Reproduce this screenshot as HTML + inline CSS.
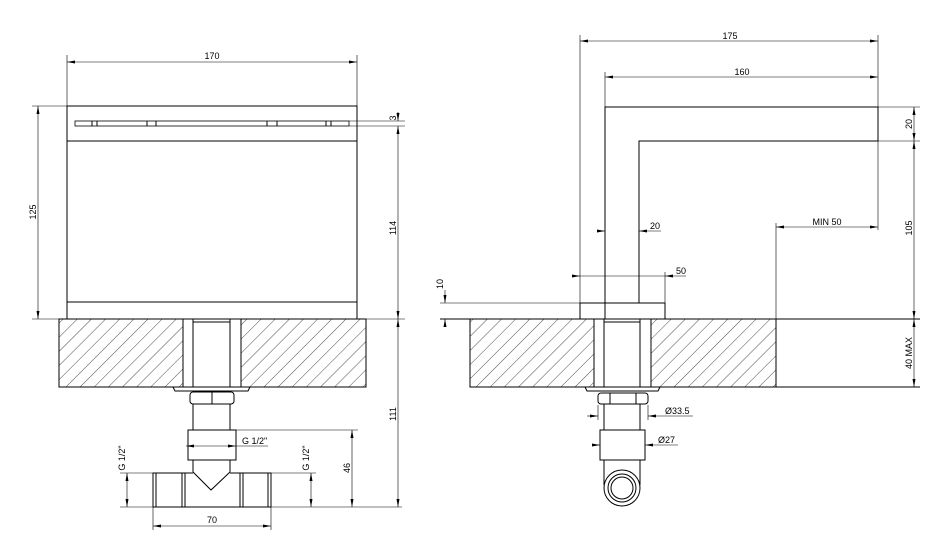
<!DOCTYPE html>
<html><head><meta charset="utf-8"><style>body{margin:0;background:#fff}svg{display:block}text{font-family:"Liberation Sans",sans-serif;font-size:9px;fill:#000}</style></head><body>
<svg width="934" height="549" viewBox="0 0 934 549" xmlns="http://www.w3.org/2000/svg">
<defs>
<pattern id="h" patternUnits="userSpaceOnUse" width="10" height="10" patternTransform="rotate(45)"><line x1="0" y1="0" x2="0" y2="10" stroke="#000" stroke-width="0.7"/></pattern>
<marker id="a" markerWidth="8" markerHeight="6" refX="8" refY="3" orient="auto-start-reverse" markerUnits="userSpaceOnUse"><path d="M0,1.5 L8,3 L0,4.5z" fill="#000"/></marker>
</defs>
<g stroke="#000" stroke-width="1" fill="none">
<!-- LEFT VIEW -->
<rect x="67" y="106" width="290" height="213"/>
<line x1="67" y1="141" x2="357" y2="141"/>
<line x1="67" y1="302" x2="357" y2="302"/>
<rect x="75" y="121" width="274" height="5" stroke-width="0.8"/>
<line x1="92" y1="121" x2="92" y2="126"/><line x1="97" y1="121" x2="97" y2="126"/>
<line x1="147" y1="121" x2="147" y2="126"/><line x1="156" y1="121" x2="156" y2="126"/>
<line x1="267" y1="121" x2="267" y2="126"/><line x1="277" y1="121" x2="277" y2="126"/>
<line x1="326" y1="121" x2="326" y2="126"/><line x1="331" y1="121" x2="331" y2="126"/>
<rect x="59" y="319" width="124" height="68" fill="url(#h)"/>
<rect x="241" y="319" width="125" height="68" fill="url(#h)"/>
<line x1="193" y1="319" x2="193" y2="387"/><line x1="230" y1="319" x2="230" y2="387"/>
<line x1="193" y1="322" x2="230" y2="322"/>
<path d="M173 387 L250 387 L248 391 L175 391z"/>
<rect x="190" y="392" width="44" height="12" rx="3"/><line x1="212" y1="392" x2="212" y2="404"/>
<line x1="193" y1="404" x2="193" y2="430"/><line x1="230" y1="404" x2="230" y2="430"/>
<rect x="188" y="430" width="48" height="30"/>
<path d="M193 460 L193 472 M230 460 L230 472 M193 472 L211 490 L230 472"/>
<rect x="153" y="473" width="32" height="34"/><rect x="156" y="473" width="26" height="34"/>
<rect x="240" y="473" width="31" height="34"/><rect x="243" y="473" width="25" height="34"/>
<line x1="185" y1="473" x2="193" y2="473"/><line x1="230" y1="473" x2="240" y2="473"/>
<line x1="185" y1="507" x2="240" y2="507"/>
<!-- left dims -->
<line x1="67" y1="55" x2="67" y2="106" stroke-width="0.6"/><line x1="357" y1="55" x2="357" y2="106" stroke-width="0.6"/>
<line x1="67" y1="62" x2="357" y2="62" stroke-width="0.6" marker-start="url(#a)" marker-end="url(#a)"/>
<line x1="32" y1="106" x2="67" y2="106" stroke-width="0.6"/><line x1="32" y1="319" x2="59" y2="319" stroke-width="0.6"/>
<line x1="38" y1="106" x2="38" y2="319" stroke-width="0.6" marker-start="url(#a)" marker-end="url(#a)"/>
<line x1="349" y1="121" x2="405" y2="121" stroke-width="0.6"/><line x1="349" y1="126" x2="405" y2="126" stroke-width="0.6"/>
<line x1="366" y1="319" x2="405" y2="319" stroke-width="0.6"/>
<line x1="398" y1="112" x2="398" y2="121" stroke-width="0.6" marker-end="url(#a)"/>
<line x1="398" y1="126" x2="398" y2="319" stroke-width="0.6" marker-start="url(#a)" marker-end="url(#a)"/>
<line x1="398" y1="319" x2="398" y2="507" stroke-width="0.6" marker-start="url(#a)" marker-end="url(#a)"/>
<line x1="236" y1="430" x2="358" y2="430" stroke-width="0.6"/>
<line x1="271" y1="507" x2="402" y2="507" stroke-width="0.6"/>
<line x1="352" y1="430" x2="352" y2="507" stroke-width="0.6" marker-start="url(#a)" marker-end="url(#a)"/>
<line x1="120" y1="473" x2="153" y2="473" stroke-width="0.6"/><line x1="120" y1="507" x2="153" y2="507" stroke-width="0.6"/>
<line x1="127" y1="473" x2="127" y2="507" stroke-width="0.6" marker-start="url(#a)" marker-end="url(#a)"/>
<line x1="271" y1="473" x2="316" y2="473" stroke-width="0.6"/>
<line x1="311" y1="473" x2="311" y2="507" stroke-width="0.6" marker-start="url(#a)" marker-end="url(#a)"/>
<line x1="153" y1="507" x2="153" y2="530" stroke-width="0.6"/><line x1="271" y1="507" x2="271" y2="530" stroke-width="0.6"/>
<line x1="153" y1="526" x2="271" y2="526" stroke-width="0.6" marker-start="url(#a)" marker-end="url(#a)"/>
<line x1="186" y1="446" x2="236" y2="446" stroke-width="0.6" marker-start="url(#a)" marker-end="url(#a)"/>
<line x1="236" y1="446" x2="268" y2="446" stroke-width="0.6"/>
<!-- RIGHT VIEW -->
<path d="M605 319 L605 107 L878 107 L878 141 L639 141 L639 303"/>
<rect x="580" y="303" width="85" height="16"/>
<line x1="440" y1="319" x2="920" y2="319"/>
<line x1="776" y1="387" x2="920" y2="387" />
<rect x="470" y="319" width="124" height="68" fill="url(#h)"/>
<rect x="651" y="319" width="125" height="68" fill="url(#h)"/>
<line x1="604" y1="319" x2="604" y2="387"/><line x1="640" y1="319" x2="640" y2="387"/>
<line x1="604" y1="322" x2="640" y2="322"/>
<path d="M585 387 L660 387 L658 391 L587 391z"/>
<rect x="598" y="393" width="50" height="11" rx="3"/><line x1="610" y1="393" x2="610" y2="404"/><line x1="636" y1="393" x2="636" y2="404"/>
<line x1="604" y1="404" x2="604" y2="430"/><line x1="640" y1="404" x2="640" y2="430"/>
<rect x="600" y="430" width="45" height="30"/>
<line x1="604" y1="460" x2="604" y2="485"/><line x1="640" y1="460" x2="640" y2="485"/>
<circle cx="622" cy="488" r="18"/><circle cx="622" cy="488" r="14"/><circle cx="622" cy="488" r="11"/>
<!-- right dims -->
<line x1="580" y1="35" x2="580" y2="303" stroke-width="0.6"/>
<line x1="878" y1="35" x2="878" y2="230" stroke-width="0.6"/>
<line x1="605" y1="72" x2="605" y2="107" stroke-width="0.6"/>
<line x1="580" y1="41" x2="878" y2="41" stroke-width="0.6" marker-start="url(#a)" marker-end="url(#a)"/>
<line x1="605" y1="77" x2="878" y2="77" stroke-width="0.6" marker-start="url(#a)" marker-end="url(#a)"/>
<line x1="878" y1="107" x2="920" y2="107" stroke-width="0.6"/><line x1="840" y1="141" x2="920" y2="141" stroke-width="0.6"/>
<line x1="914" y1="107" x2="914" y2="141" stroke-width="0.6" marker-start="url(#a)" marker-end="url(#a)"/>
<line x1="914" y1="141" x2="914" y2="319" stroke-width="0.6" marker-start="url(#a)" marker-end="url(#a)"/>
<line x1="914" y1="319" x2="914" y2="387" stroke-width="0.6" marker-start="url(#a)" marker-end="url(#a)"/>
<line x1="776" y1="223" x2="776" y2="387" stroke-width="0.6"/>
<line x1="776" y1="227" x2="878" y2="227" stroke-width="0.6" marker-start="url(#a)" marker-end="url(#a)"/>
<line x1="598" y1="231" x2="605" y2="231" stroke-width="0.6" marker-end="url(#a)"/>
<line x1="639" y1="231" x2="661" y2="231" stroke-width="0.6" marker-start="url(#a)"/>
<line x1="573" y1="276" x2="580" y2="276" stroke-width="0.6" marker-end="url(#a)"/>
<line x1="580" y1="276" x2="665" y2="276" stroke-width="0.6"/>
<line x1="665" y1="272" x2="665" y2="303" stroke-width="0.6"/>
<line x1="665" y1="276" x2="686" y2="276" stroke-width="0.6" marker-start="url(#a)"/>
<line x1="440" y1="303" x2="580" y2="303" stroke-width="0.6"/>
<line x1="445" y1="290" x2="445" y2="303" stroke-width="0.6" marker-end="url(#a)"/>
<line x1="445" y1="319" x2="445" y2="327" stroke-width="0.6" marker-start="url(#a)"/>
<line x1="587" y1="416" x2="598" y2="416" stroke-width="0.6" marker-end="url(#a)"/>
<line x1="598" y1="405" x2="598" y2="420" stroke-width="0.6"/><line x1="648" y1="405" x2="648" y2="420" stroke-width="0.6"/>
<line x1="648" y1="416" x2="693" y2="416" stroke-width="0.6" marker-start="url(#a)"/>
<line x1="592" y1="445" x2="600" y2="445" stroke-width="0.6" marker-end="url(#a)"/>
<line x1="645" y1="445" x2="678" y2="445" stroke-width="0.6" marker-start="url(#a)"/>
</g>
<g>
<text x="212" y="59" text-anchor="middle">170</text>
<text transform="translate(36,212) rotate(-90)" text-anchor="middle">125</text>
<text transform="translate(396,118) rotate(-90)" text-anchor="middle">3</text>
<text transform="translate(396,228) rotate(-90)" text-anchor="middle">114</text>
<text transform="translate(396,414) rotate(-90)" text-anchor="middle">111</text>
<text transform="translate(350,468) rotate(-90)" text-anchor="middle">46</text>
<text transform="translate(125,458) rotate(-90)" text-anchor="middle">G 1/2"</text>
<text transform="translate(309,458) rotate(-90)" text-anchor="middle">G 1/2"</text>
<text x="242" y="444">G 1/2"</text>
<text x="212" y="523" text-anchor="middle">70</text>
<text x="730" y="39" text-anchor="middle">175</text>
<text x="742" y="75" text-anchor="middle">160</text>
<text transform="translate(912,124) rotate(-90)" text-anchor="middle">20</text>
<text transform="translate(912,228) rotate(-90)" text-anchor="middle">105</text>
<text transform="translate(912,353) rotate(-90)" text-anchor="middle">40 MAX</text>
<text x="827" y="225" text-anchor="middle">MIN 50</text>
<text x="650" y="229">20</text>
<text x="676" y="274">50</text>
<text transform="translate(443,284) rotate(-90)" text-anchor="middle">10</text>
<text x="665" y="414">Ø33.5</text>
<text x="658" y="443">Ø27</text>
</g>
</svg>
</body></html>
